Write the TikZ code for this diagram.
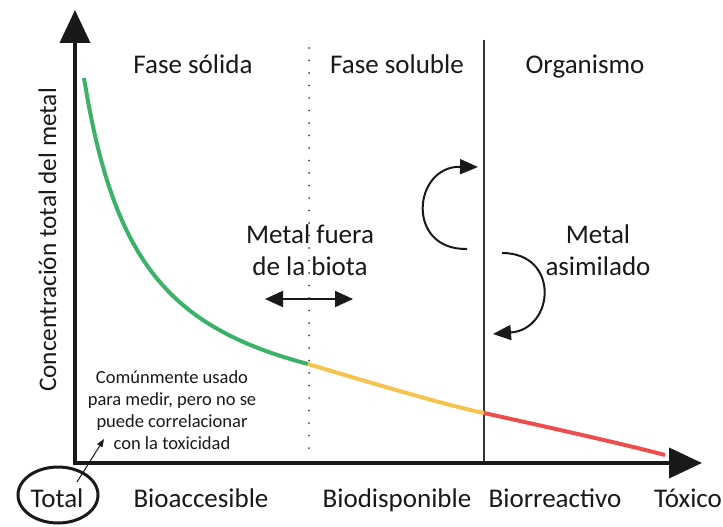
\documentclass[tikz,border=0pt]{standalone}
\usepackage{fontspec}
\setmainfont{Carlito}
\usetikzlibrary{arrows.meta,shapes.geometric}
\definecolor{cgreen}{RGB}{60,178,104}
\definecolor{cyellow}{RGB}{246,196,78}
\definecolor{cred}{RGB}{236,78,78}
\definecolor{ink}{RGB}{25,25,25}
\begin{document}
\begin{tikzpicture}[x=1pt,y=-1pt,
  big/.style={font=\fontsize{27}{32}\selectfont, inner sep=0pt, anchor=base, text=ink},
  small/.style={font=\fontsize{18.5}{22}\selectfont, inner sep=0pt, anchor=base, text=ink},
  axisline/.style={line width=4pt, draw=ink, -{Triangle[length=33pt,width=30pt]}},
  curve/.style={line width=4pt},
  bendarrow/.style={line width=2pt, draw=ink, -{Triangle[length=18pt,width=15pt]}},
]
\useasboundingbox (0,0) rectangle (723,527);

% coordinates
\coordinate (O) at (75,463);
\coordinate (Ybot) at (75,465);
\coordinate (Ytip) at (75,10);
\coordinate (Xtip) at (702,463);
\coordinate (Dtop) at (309,48);
\coordinate (Dbot) at (309,458);
\coordinate (Stop) at (484,40);
\coordinate (Sbot) at (484,463);

% region separators
\draw[line width=2pt, draw=black!75, dash pattern=on 0pt off 12.5pt, line cap=round] (Dtop) -- (Dbot);
\draw[line width=1.6pt, draw=black!80] (Stop) -- (Sbot);

% curve
\draw[curve, cgreen] plot[smooth, domain=84:308, samples=60] (\x, {438.1 - 209*(100/(\x - 25.96))});
\coordinate (c1) at (308,364);
\coordinate (c2) at (484,413);
\coordinate (c3) at (665,455);
\draw[curve, cyellow] (c1) .. controls (340,373.5) and (440,404) .. (c2);
\draw[curve, cred] (c2) .. controls (520,421) and (620,443) .. (c3);

% axes
\draw[axisline] (Ybot) -- (Ytip);
\draw[axisline] (O) -- (Xtip);

% top labels
\node[big] (fs) at (193,74) {Fase sólida};
\node[big] (fsol) at (397,74) {Fase soluble};
\node[big] (org) at (585,74) {Organismo};

% y label
\node[font=\fontsize{25.3}{30}\selectfont, inner sep=0pt, anchor=base, text=ink, rotate=90] (ylab) at (56,240) {Concentración total del metal};

% metal fuera
\node[big] (mf1) at (310,243) {Metal fuera};
\node[big] (mf2) at (310,275) {de la biota};
\coordinate (da1) at (265,299);
\coordinate (da2) at (353,299);
\draw[line width=2pt, draw=ink, {Triangle[length=18pt,width=16pt]}-{Triangle[length=18pt,width=16pt]}] (da1) -- (da2);

% metal asimilado
\node[big] (ma1) at (598,243) {Metal};
\node[big] (ma2) at (598,275) {asimilado};

% bent arrows
\coordinate (la1) at (467,249);
\coordinate (la2) at (478,167);
\draw[bendarrow] (la1) .. controls (405,250) and (413,166) .. (la2);
\coordinate (ra1) at (502,253);
\coordinate (ra2) at (493,334);
\draw[bendarrow] (ra1) .. controls (560,253) and (555,329) .. (ra2);

% small note
\node[small] (n1) at (172,383) {Comúnmente usado};
\node[small] (n2) at (172,405) {para medir, pero no se};
\node[small] (n3) at (172,427) {puede correlacionar};
\node[small] (n4) at (172,449) {con la toxicidad};

% bottom labels
\node[draw=ink, line width=3pt, ellipse, minimum width=80pt, minimum height=56pt, inner sep=0pt] (tot) at (58,495) {};
\node[big] (total) at (57,507) {Total};
\node[big] (bacc) at (201,507) {Bioaccesible};
\node[big] (bdisp) at (397,507) {Biodisponible};
\node[big] (breac) at (555,507) {Biorreactivo};
\node[big] (tox) at (688,507) {Tóxico};

% small arrow from Total to note
\coordinate (sa1) at (77,482);
\coordinate (sa2) at (104,439);
\draw[line width=1pt, draw=ink, -{Triangle[length=8pt,width=6pt]}] (sa1) -- (sa2);
\end{tikzpicture}
\end{document}
